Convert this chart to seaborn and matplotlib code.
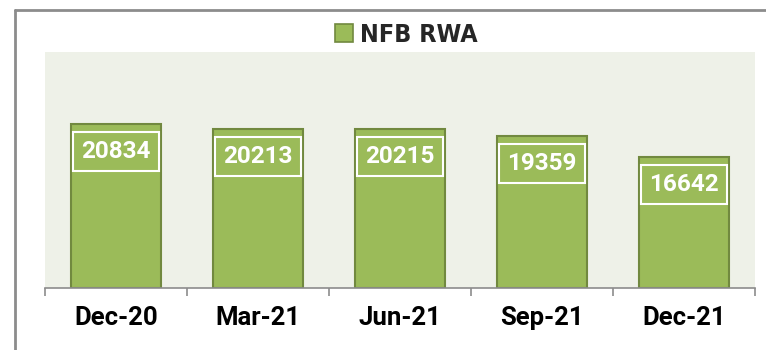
import matplotlib
matplotlib.use("Agg")
import matplotlib.pyplot as plt
from matplotlib.lines import Line2D
from matplotlib.patches import Patch
import seaborn as sns
import pandas as pd

# Quarterly NFB risk-weighted assets
quarters = ["Dec-20", "Mar-21", "Jun-21", "Sep-21", "Dec-21"]
nfb_rwa = [20834, 20213, 20215, 19359, 16642]
series_name = "NFB RWA"

bar_color = "#9BBB59"
edge_color = "#71893F"
panel_color = "#EEF1E8"
frame_color = "#8C8C8C"

sns.set_theme(style="white")
plt.rcParams["font.family"] = ["Roboto", "DejaVu Sans"]

df = pd.DataFrame({"quarter": quarters, "value": nfb_rwa})

fig = plt.figure(figsize=(7.66, 3.5), dpi=100)
ax = fig.add_axes([45 / 766, 1 - 288 / 350, 710 / 766, 236 / 350])
ax.set_facecolor(panel_color)

sns.barplot(data=df, x="quarter", y="value", color=bar_color,
            saturation=1, width=0.63, edgecolor=edge_color, linewidth=1.5,
            ax=ax)

ax.set_xlim(-0.5, len(quarters) - 0.5)
ax.set_ylim(0, 30000)
ax.set_xlabel("")
ax.set_ylabel("")
ax.set_yticks([])

for side in ("top", "right", "left"):
    ax.spines[side].set_visible(False)
ax.spines["bottom"].set_color(frame_color)
ax.spines["bottom"].set_linewidth(1.2)

# category labels centred under bars, boundary tick marks between them
ax.tick_params(axis="x", which="major", length=0, pad=13)
ax.set_xticks([i - 0.5 for i in range(len(quarters) + 1)], minor=True)
ax.tick_params(axis="x", which="minor", length=6, width=1.2, color=frame_color,
               bottom=True)
for lbl in ax.get_xticklabels():
    lbl.set_fontsize(18.5)
    lbl.set_fontweight("bold")
    lbl.set_color("black")

# boxed value labels inside the top of each bar
for i, v in enumerate(nfb_rwa):
    ax.annotate(f"{v}", xy=(i, v), xytext=(0, -20), textcoords="offset points",
                ha="center", va="center", fontsize=17.5, fontweight="bold",
                color="white",
                bbox=dict(boxstyle="square,pad=0.33", fc="none",
                          ec="white", lw=1.5))

# legend above the panel
handle = Patch(facecolor=bar_color, edgecolor=edge_color, linewidth=1.2)
fig.legend([handle], [series_name], loc="center", bbox_to_anchor=(406 / 766, 1 - 35 / 350),
           frameon=False, handlelength=0.75, handleheight=0.75, handletextpad=0.25,
           prop=dict(family="DejaVu Sans", stretch="condensed",
                     weight="bold", size=18))

# outer chart frame (top and left edges)
fig.add_artist(Line2D([15 / 766, 1.0], [1 - 10 / 350, 1 - 10 / 350],
                      color=frame_color, lw=2, transform=fig.transFigure))
fig.add_artist(Line2D([15 / 766, 15 / 766], [0, 1 - 10 / 350],
                      color=frame_color, lw=2, transform=fig.transFigure))

fig.savefig("out.png", dpi=100)
